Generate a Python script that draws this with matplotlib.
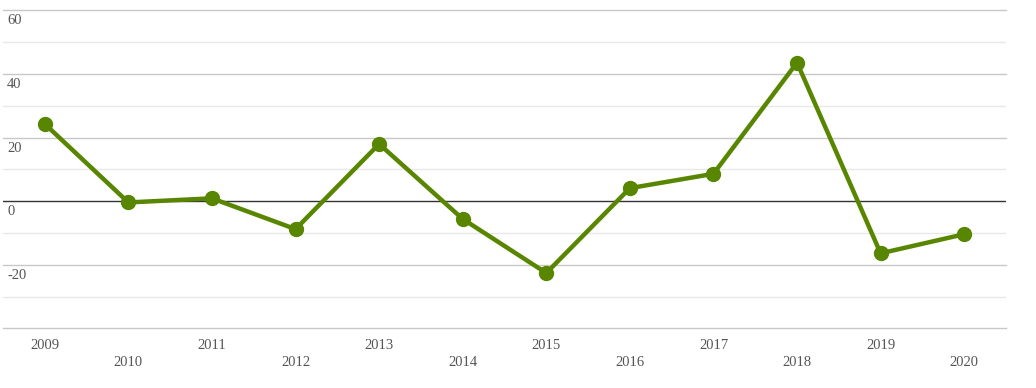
import matplotlib.pyplot as plt

# data
years = ["2009", "2010", "2011", "2012", "2013", "2014",
         "2015", "2016", "2017", "2018", "2019", "2020"]
values = [24.3, -0.4, 0.9, -8.8, 18.0, -5.6, -22.6, 4.1, 8.6, 43.6, -16.4, -10.4]
y_ticks = [60, 40, 20, 0, -20]
major_lines = [60, 40, 20, -20, -40]
minor_lines = [50, 30, 10, -10, -30]

green = "#588600"
text_color = "#555555"
font = ["Liberation Serif", "DejaVu Serif"]

fig = plt.figure(figsize=(10.36, 3.88), dpi=100)
ax = fig.add_axes([3 / 1036, 1 - 328.3 / 388, 1003 / 1036, 317.8 / 388])

x = list(range(len(years)))
ax.set_xlim(-0.5, len(years) - 0.5)
ax.set_ylim(-40, 60)

# grid lines
for v in minor_lines:
    ax.axhline(v, color="#e8e8e8", linewidth=1, zorder=1)
for v in major_lines:
    ax.axhline(v, color="#c8c8c8", linewidth=1, zorder=1, clip_on=False)
ax.axhline(0, color="#333333", linewidth=1, zorder=2)

ax.plot(x, values, color=green, linewidth=3.2, marker="o", markersize=10,
        zorder=3)

for s in ax.spines.values():
    s.set_visible(False)
ax.set_xticks([])
ax.set_yticks([])

# y labels sit inside the plot, under each line
for v in y_ticks:
    ax.annotate(str(v), xy=(0, v), xycoords=("axes fraction", "data"),
                xytext=(4, -4), textcoords="offset pixels",
                ha="left", va="top", fontsize=10.5, color=text_color, family=font)

# x labels alternate between two rows
for i, yr in enumerate(years):
    dy = -11 if i % 2 == 0 else -28
    ax.annotate(yr, xy=(i, 0), xycoords=("data", "axes fraction"),
                xytext=(0, dy), textcoords="offset pixels",
                ha="center", va="top", fontsize=10.5, color=text_color, family=font)

plt.savefig("out.png", dpi=100)
